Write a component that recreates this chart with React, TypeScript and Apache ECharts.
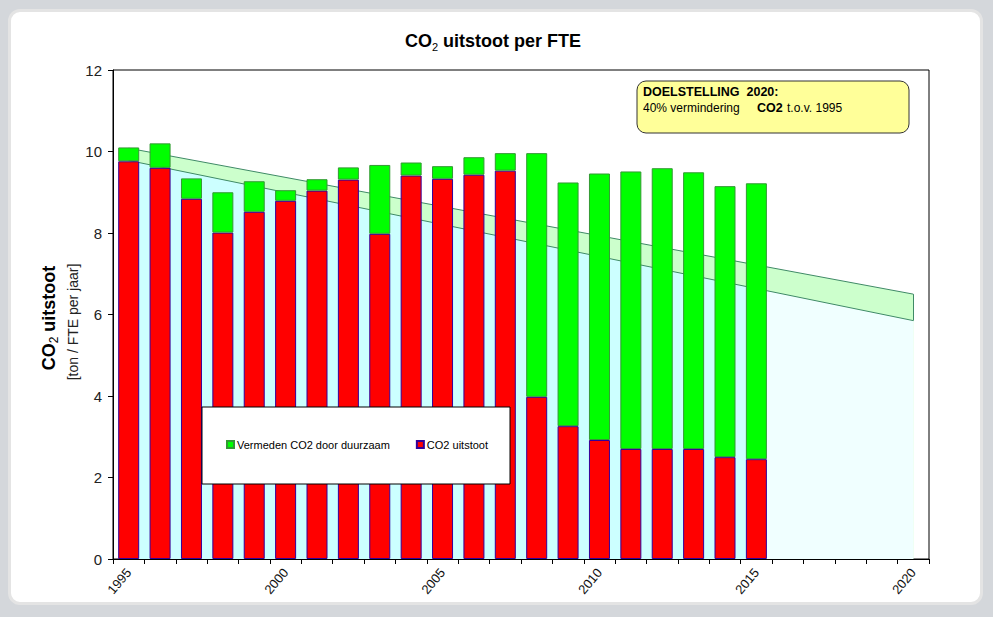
import React, { useEffect, useRef } from "react";
import * as echarts from "echarts";

const years = [
  "1995", "1996", "1997", "1998", "1999", "2000", "2001", "2002", "2003",
  "2004", "2005", "2006", "2007", "2008", "2009", "2010", "2011", "2012",
  "2013", "2014", "2015", "2016", "2017", "2018", "2019", "2020",
];

// CO2 uitstoot (red, bottom of stack)
const co2Uitstoot = [
  9.76, 9.6, 8.84, 8.01, 8.52, 8.79, 9.04, 9.31, 7.98, 9.41, 9.33, 9.43, 9.53,
  3.98, 3.26, 2.92, 2.7, 2.7, 2.7, 2.5, 2.45,
];

// Vermeden CO2 door duurzaam (green, top of stack)
const vermeden = [
  0.34, 0.6, 0.5, 0.99, 0.75, 0.26, 0.28, 0.3, 1.69, 0.32, 0.31, 0.43, 0.43,
  5.98, 5.98, 6.54, 6.81, 6.89, 6.79, 6.65, 6.77,
];

// Target band (doelstelling) end points: index 0 = 1995, index 25 = 2020
const doelIndex = [0, 25];
const doelHoog = [10.08, 6.5];
const doelLaag = [9.78, 5.85];

const TEAL = "#3f8a66";

export default function App() {
  const ref = useRef<HTMLDivElement>(null);

  useEffect(() => {
    if (!ref.current) return;
    const chart = echarts.init(ref.current, null, { renderer: "svg" });
    const font = "Arial, 'Liberation Sans', sans-serif";

    const hoogData = doelIndex.map((x, i) => [x, doelHoog[i]]);
    const laagData = doelIndex.map((x, i) => [x, doelLaag[i]]);

    const option: any = {
      animation: false,
      backgroundColor: "transparent",
      textStyle: { fontFamily: font },
      grid: {
        left: 113,
        right: 64,
        top: 70,
        bottom: 58,
        show: true,
        borderColor: "#000",
        borderWidth: 1,
      },
      legend: {
        left: 226,
        top: 439,
        padding: 0,
        itemGap: 26,
        itemWidth: 7,
        itemHeight: 7,
        icon: "rect",
        z: 6,
        textStyle: { fontSize: 11, color: "#000", fontFamily: font, padding: [0, 0, 0, -2] },
        data: ["Vermeden CO2 door duurzaam", "CO2 uitstoot"],
      },
      xAxis: [
        {
          type: "category",
          data: years,
          boundaryGap: true,
          axisLine: { onZero: false, lineStyle: { color: "#000", width: 1 } },
          axisTick: { show: true, interval: 0, length: 5, lineStyle: { color: "#000" } },
          axisLabel: {
            interval: 4,
            rotate: 50,
            fontSize: 13,
            color: "#111",
            margin: 11,
          },
        },
        { type: "value", min: -0.5, max: 25.5, show: false },
      ],
      yAxis: {
        type: "value",
        min: 0,
        max: 12,
        interval: 2,
        axisLine: { show: true, onZero: false, lineStyle: { color: "#000" } },
        axisTick: { show: true, length: 5, lineStyle: { color: "#000" } },
        splitLine: { show: false },
        axisLabel: { fontSize: 15, color: "#222", margin: 11 },
      },
      series: [
        {
          name: "doelHoog",
          type: "line",
          xAxisIndex: 1,
          data: hoogData,
          symbol: "none",
          lineStyle: { color: TEAL, width: 1 },
          areaStyle: { color: "#ccffcc", opacity: 1, origin: "start" },
          z: 1,
        },
        {
          name: "doelLaag",
          type: "line",
          xAxisIndex: 1,
          data: laagData,
          symbol: "none",
          lineStyle: { color: TEAL, width: 1 },
          areaStyle: {
            opacity: 1,
            origin: "start",
            color: new echarts.graphic.LinearGradient(0, 0, 1, 0, [
              { offset: 0, color: "#ccffff" },
              { offset: 0.805, color: "#ccffff" },
              { offset: 0.805, color: "#f0ffff" },
              { offset: 1, color: "#f0ffff" },
            ]),
          },
          markLine: {
            silent: true,
            symbol: "none",
            label: { show: false },
            lineStyle: { color: TEAL, width: 1, type: "solid" },
            data: [
              [
                { coord: [doelIndex[1], doelLaag[1]] },
                { coord: [doelIndex[1], doelHoog[1]] },
              ],
            ],
          },
          z: 1,
        },
        {
          name: "CO2 uitstoot",
          type: "bar",
          stack: "co2",
          barWidth: 21,
          data: co2Uitstoot,
          itemStyle: { color: "#ff0000", borderColor: "#330099", borderWidth: 1 },
          z: 3,
        },
        {
          name: "Vermeden CO2 door duurzaam",
          type: "bar",
          stack: "co2",
          barWidth: 21,
          data: vermeden,
          itemStyle: { color: "#00ff00", borderColor: "#339933", borderWidth: 1 },
          z: 3,
        },
      ],
      graphic: [
        {
          type: "text",
          x: 493,
          y: 41,
          style: {
            text: "{a|CO}{s|2}{a| uitstoot per FTE}",
            align: "center",
            verticalAlign: "middle",
            rich: {
              a: { fontSize: 18, fontWeight: "bold", fontFamily: font, lineHeight: 22, fill: "#000" },
              s: { fontSize: 11, fontFamily: font, lineHeight: 11, verticalAlign: "bottom", fill: "#000" },
            },
          },
        },
        {
          type: "text",
          x: 49,
          y: 318,
          rotation: Math.PI / 2,
          style: {
            text: "{a|CO}{s|2}{a| uitstoot}",
            align: "center",
            verticalAlign: "middle",
            rich: {
              a: { fontSize: 18, fontWeight: "bold", fontFamily: font, lineHeight: 22, fill: "#000" },
              s: { fontSize: 12, fontFamily: font, lineHeight: 12, verticalAlign: "bottom", fill: "#000" },
            },
          },
        },
        {
          type: "text",
          x: 73,
          y: 322,
          rotation: Math.PI / 2,
          style: {
            text: "[ton / FTE per jaar]",
            align: "center",
            verticalAlign: "middle",
            fontSize: 14,
            fontFamily: font,
            fill: "#222",
          },
        },
        {
          type: "rect",
          z: 5,
          shape: { x: 202, y: 407, width: 308, height: 77 },
          style: { fill: "#ffffff", stroke: "#000", lineWidth: 1 },
        },
        {
          type: "group",
          z: 5,
          children: [
            {
              type: "rect",
              shape: { x: 637, y: 81, width: 272, height: 52, r: 9 },
              style: { fill: "#ffff99", stroke: "#333", lineWidth: 1 },
            },
            {
              type: "text",
              x: 643,
              y: 92,
              style: {
                text: "DOELSTELLING  2020:",
                fontSize: 12.5,
                fontWeight: "bold",
                fontFamily: font,
                fill: "#000",
                verticalAlign: "middle",
              },
            },
            {
              type: "text",
              x: 643,
              y: 108,
              style: {
                text: "40% vermindering",
                fontSize: 12,
                fontFamily: font,
                fill: "#000",
                verticalAlign: "middle",
              },
            },
            {
              type: "text",
              x: 757,
              y: 108,
              style: {
                text: "CO2",
                fontSize: 12.5,
                fontWeight: "bold",
                fontFamily: font,
                fill: "#000",
                verticalAlign: "middle",
              },
            },
            {
              type: "text",
              x: 787,
              y: 108,
              style: {
                text: "t.o.v. 1995",
                fontSize: 12,
                fontFamily: font,
                fill: "#000",
                verticalAlign: "middle",
              },
            },
          ],
        },
      ],
    };

    chart.setOption(option);
    return () => chart.dispose();
  }, []);

  return (
    <div
      style={{
        position: "absolute",
        left: 0,
        top: 0,
        width: 993,
        height: 617,
        background: "#d4d7db",
        overflow: "hidden",
      }}
    >
      <div
        style={{
          position: "absolute",
          left: 8,
          top: 9,
          width: 969,
          height: 590,
          background: "#ffffff",
          border: "3px solid #e4e4e4",
          borderRadius: 12,
        }}
      />
      <div
        ref={ref}
        style={{ position: "absolute", left: 0, top: 0, width: 993, height: 617 }}
      />
    </div>
  );
}
